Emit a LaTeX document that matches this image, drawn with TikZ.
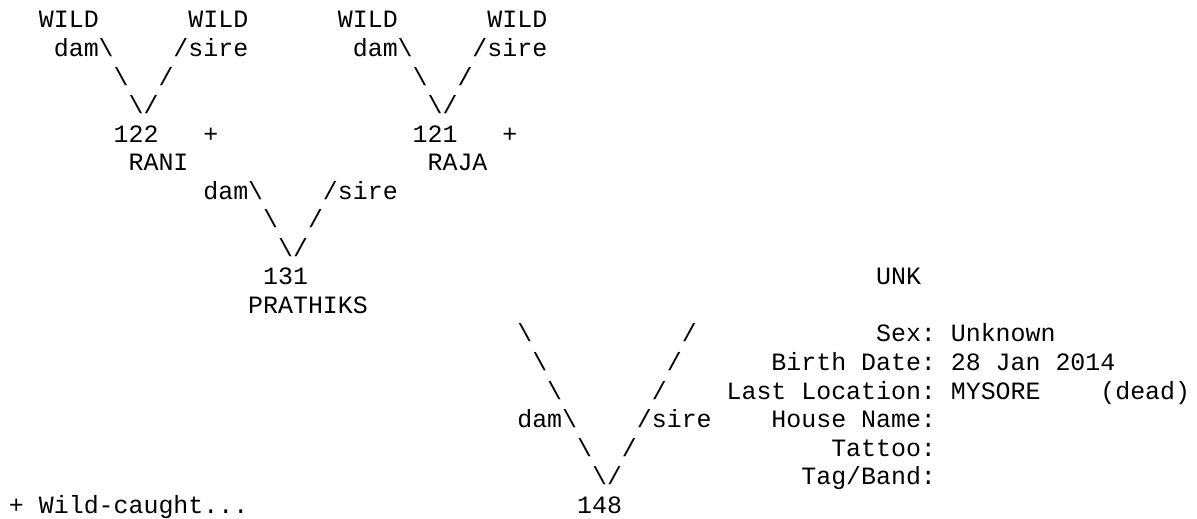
\documentclass[tikz,border=0pt]{standalone}
\usepackage{fontspec}
\newfontfamily\courfont{Liberation Mono}
\newcommand\cw{14.95}
\newcommand\lh{28.54}
\newcommand\bs{\textbackslash}
\tikzset{tx/.style={anchor=base west, inner sep=0pt, outer sep=0pt,
  font=\courfont\fontsize{24.92pt}{28pt}\selectfont, text=black}}
\newcommand\asc[4]{\node[tx] (#1) at ({9+#2*\cw},{-28-(#3-1)*\lh}) {#4};}
\begin{document}
\begin{tikzpicture}[x=1pt,y=1pt]
\useasboundingbox[fill=white] (0,0) rectangle (1197,-519);
% line 1
\asc{wa}{2}{1}{WILD}
\asc{wb}{12}{1}{WILD}
\asc{wc}{22}{1}{WILD}
\asc{wd}{32}{1}{WILD}
% line 2
\asc{da}{3}{2}{dam\bs}
\asc{sa}{11}{2}{/sire}
\asc{db}{23}{2}{dam\bs}
\asc{sb}{31}{2}{/sire}
% line 3
\asc{la3a}{7}{3}{\bs}
\asc{ra3a}{10}{3}{/}
\asc{la3b}{27}{3}{\bs}
\asc{ra3b}{30}{3}{/}
% line 4
\asc{va}{8}{4}{\bs/}
\asc{vb}{28}{4}{\bs/}
% line 5
\asc{n122}{7}{5}{122}
\asc{pa}{13}{5}{+}
\asc{n121}{27}{5}{121}
\asc{pb}{33}{5}{+}
% line 6
\asc{rani}{8}{6}{RANI}
\asc{raja}{28}{6}{RAJA}
% line 7
\asc{dc}{13}{7}{dam\bs}
\asc{sc}{21}{7}{/sire}
% line 8
\asc{l8}{17}{8}{\bs}
\asc{r8}{20}{8}{/}
% line 9
\asc{vc}{18}{9}{\bs/}
% line 10
\asc{n131}{17}{10}{131}
\asc{unk}{58}{10}{UNK}
% line 11
\asc{prat}{16}{11}{PRATHIKS}
% line 12
\asc{l12}{34}{12}{\bs}
\asc{r12}{45}{12}{/}
\asc{sexk}{58}{12}{Sex:}
\asc{sexv}{63}{12}{Unknown}
% line 13
\asc{l13}{35}{13}{\bs}
\asc{r13}{44}{13}{/}
\asc{bdk}{51}{13}{Birth Date:}
\asc{bdv}{63}{13}{28 Jan 2014}
% line 14
\asc{l14}{36}{14}{\bs}
\asc{r14}{43}{14}{/}
\asc{llk}{48}{14}{Last Location:}
\asc{llv}{63}{14}{MYSORE}
\asc{dead}{73}{14}{(dead)}
% line 15
\asc{dd}{34}{15}{dam\bs}
\asc{sd}{42}{15}{/sire}
\asc{hnk}{51}{15}{House Name:}
% line 16
\asc{l16}{38}{16}{\bs}
\asc{r16}{41}{16}{/}
\asc{tatk}{55}{16}{Tattoo:}
% line 17
\asc{vd}{39}{17}{\bs/}
\asc{tagk}{53}{17}{Tag/Band:}
% line 18
\asc{wild}{0}{18}{+ Wild-caught...}
\asc{n148}{38}{18}{148}
\end{tikzpicture}
\end{document}
